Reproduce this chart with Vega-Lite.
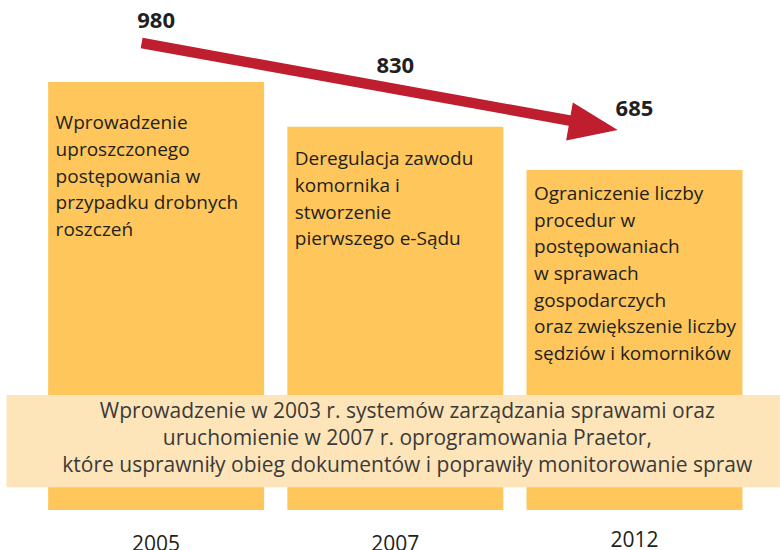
{
  "$schema": "https://vega.github.io/schema/vega-lite/v6.json",
  "width": 780,
  "height": 510,
  "autosize": {"type": "none"},
  "padding": {"left": 0, "top": 0, "right": 0, "bottom": 40},
  "background": "white",
  "config": {
    "view": {"stroke": null},
    "font": "Open Sans",
    "axisX": {"domain": false, "ticks": false, "grid": false, "labelAngle": 0, "labelFontSize": 21, "labelColor": "#231F20", "labelPadding": 23, "labelFont": "Open Sans"}
  },
  "datasets": {
    "bars": [
      {"year": "2005", "cases": 980, "measure": "Wprowadzenie\nuproszczonego\npostępowania w\nprzypadku drobnych\nroszczeń"},
      {"year": "2007", "cases": 830, "measure": "Deregulacja zawodu\nkomornika i\nstworzenie\npierwszego e-Sądu"},
      {"year": "2012", "cases": 685, "measure": "Ograniczenie liczby\nprocedur w\npostępowaniach\nw sprawach\ngospodarczych\noraz zwiększenie liczby\nsędziów i komorników"}
    ],
    "trend": [
      {"from": "2005", "to": "2012", "from_cases": 980, "to_cases": 685}
    ],
    "note": [
      {"from": "2005", "to": "2012", "mid": "2007", "text": "Wprowadzenie w 2003 r. systemów zarządzania sprawami oraz\nuruchomienie w 2007 r. oprogramowania Praetor,\n które usprawniły obieg dokumentów i poprawiły monitorowanie spraw"}
    ]
  },
  "resolve": {"scale": {"y": "independent"}},
  "layer": [
    {
      "data": {"name": "bars"},
      "mark": {"type": "bar", "color": "#FEC65B"},
      "encoding": {
        "x": {
          "field": "year", "type": "ordinal",
          "scale": {"domain": ["2005", "2007", "2012"], "paddingInner": 0.097, "paddingOuter": 0.179, "align": 0.562},
          "axis": {"title": null, "labelPadding": {"condition": {"test": "datum.value === '2012'", "value": 19}, "value": 23}}
        },
        "y": {"field": "cases", "type": "quantitative", "scale": {"domain": [-455, 1255], "nice": false, "zero": false}, "axis": null},
        "y2": {"datum": -455}
      }
    },
    {
      "data": {"name": "bars"},
      "mark": {"type": "text", "align": "center", "baseline": "alphabetic", "dy": -54, "fontSize": 22, "fontWeight": "bold", "color": "#231F20"},
      "encoding": {
        "x": {"field": "year", "type": "ordinal", "axis": {"title": null}},
        "y": {"field": "cases", "type": "quantitative", "scale": {"domain": [-455, 1255], "nice": false, "zero": false}, "axis": null},
        "text": {"field": "cases", "type": "quantitative"}
      }
    },
    {
      "data": {"name": "trend"},
      "mark": {"type": "rule", "color": "#BE1E2D", "strokeWidth": 10.5, "strokeCap": "butt", "xOffset": -14.5, "yOffset": -39, "x2Offset": -59.5, "y2Offset": -48.5},
      "encoding": {
        "x": {"field": "from", "type": "ordinal", "axis": {"title": null}},
        "x2": {"field": "to"},
        "y": {"field": "from_cases", "type": "quantitative", "scale": {"domain": [-455, 1255], "nice": false, "zero": false}, "axis": null},
        "y2": {"field": "to_cases"}
      }
    },
    {
      "data": {"name": "trend"},
      "mark": {"type": "point", "shape": "M1,0L-1,-0.788L-1,0.788Z", "size": 2401, "angle": 10, "filled": true, "opacity": 1, "color": "#BE1E2D", "strokeWidth": 0, "xOffset": -40.9, "yOffset": -44.25},
      "encoding": {
        "x": {"field": "to", "type": "ordinal", "axis": {"title": null}},
        "y": {"field": "to_cases", "type": "quantitative", "scale": {"domain": [-455, 1255], "nice": false, "zero": false}, "axis": null}
      }
    },
    {
      "data": {"name": "bars"},
      "mark": {"type": "text", "align": "left", "baseline": "alphabetic", "dx": 7.5, "fontSize": 19, "lineHeight": 26.7, "lineBreak": "\n", "color": "#231F20"},
      "encoding": {
        "x": {"field": "year", "type": "ordinal", "bandPosition": 0, "axis": {"title": null}},
        "y": {"field": "cases", "type": "quantitative", "scale": {"domain": [-609.6, 1519.9], "nice": false, "zero": false}, "axis": null},
        "text": {"field": "measure"}
      }
    },
    {
      "data": {"name": "note"},
      "mark": {"type": "rect", "color": "#FEE5B9", "xOffset": -41.6, "x2Offset": 37.4},
      "encoding": {
        "x": {"field": "from", "type": "ordinal", "bandPosition": 0, "axis": {"title": null}},
        "x2": {"field": "to", "bandPosition": 1},
        "y": {"datum": -69, "type": "quantitative", "scale": {"domain": [-455, 1255], "nice": false, "zero": false}, "axis": null},
        "y2": {"datum": -379}
      }
    },
    {
      "data": {"name": "note"},
      "mark": {"type": "text", "align": "center", "baseline": "alphabetic", "dx": 12, "fontSize": 21, "lineHeight": 26.7, "lineBreak": "\n", "color": "#3A3A3A"},
      "encoding": {
        "x": {"field": "mid", "type": "ordinal", "axis": {"title": null}},
        "y": {"datum": -147, "type": "quantitative", "scale": {"domain": [-455, 1255], "nice": false, "zero": false}, "axis": null},
        "text": {"field": "text"}
      }
    }
  ]
}
